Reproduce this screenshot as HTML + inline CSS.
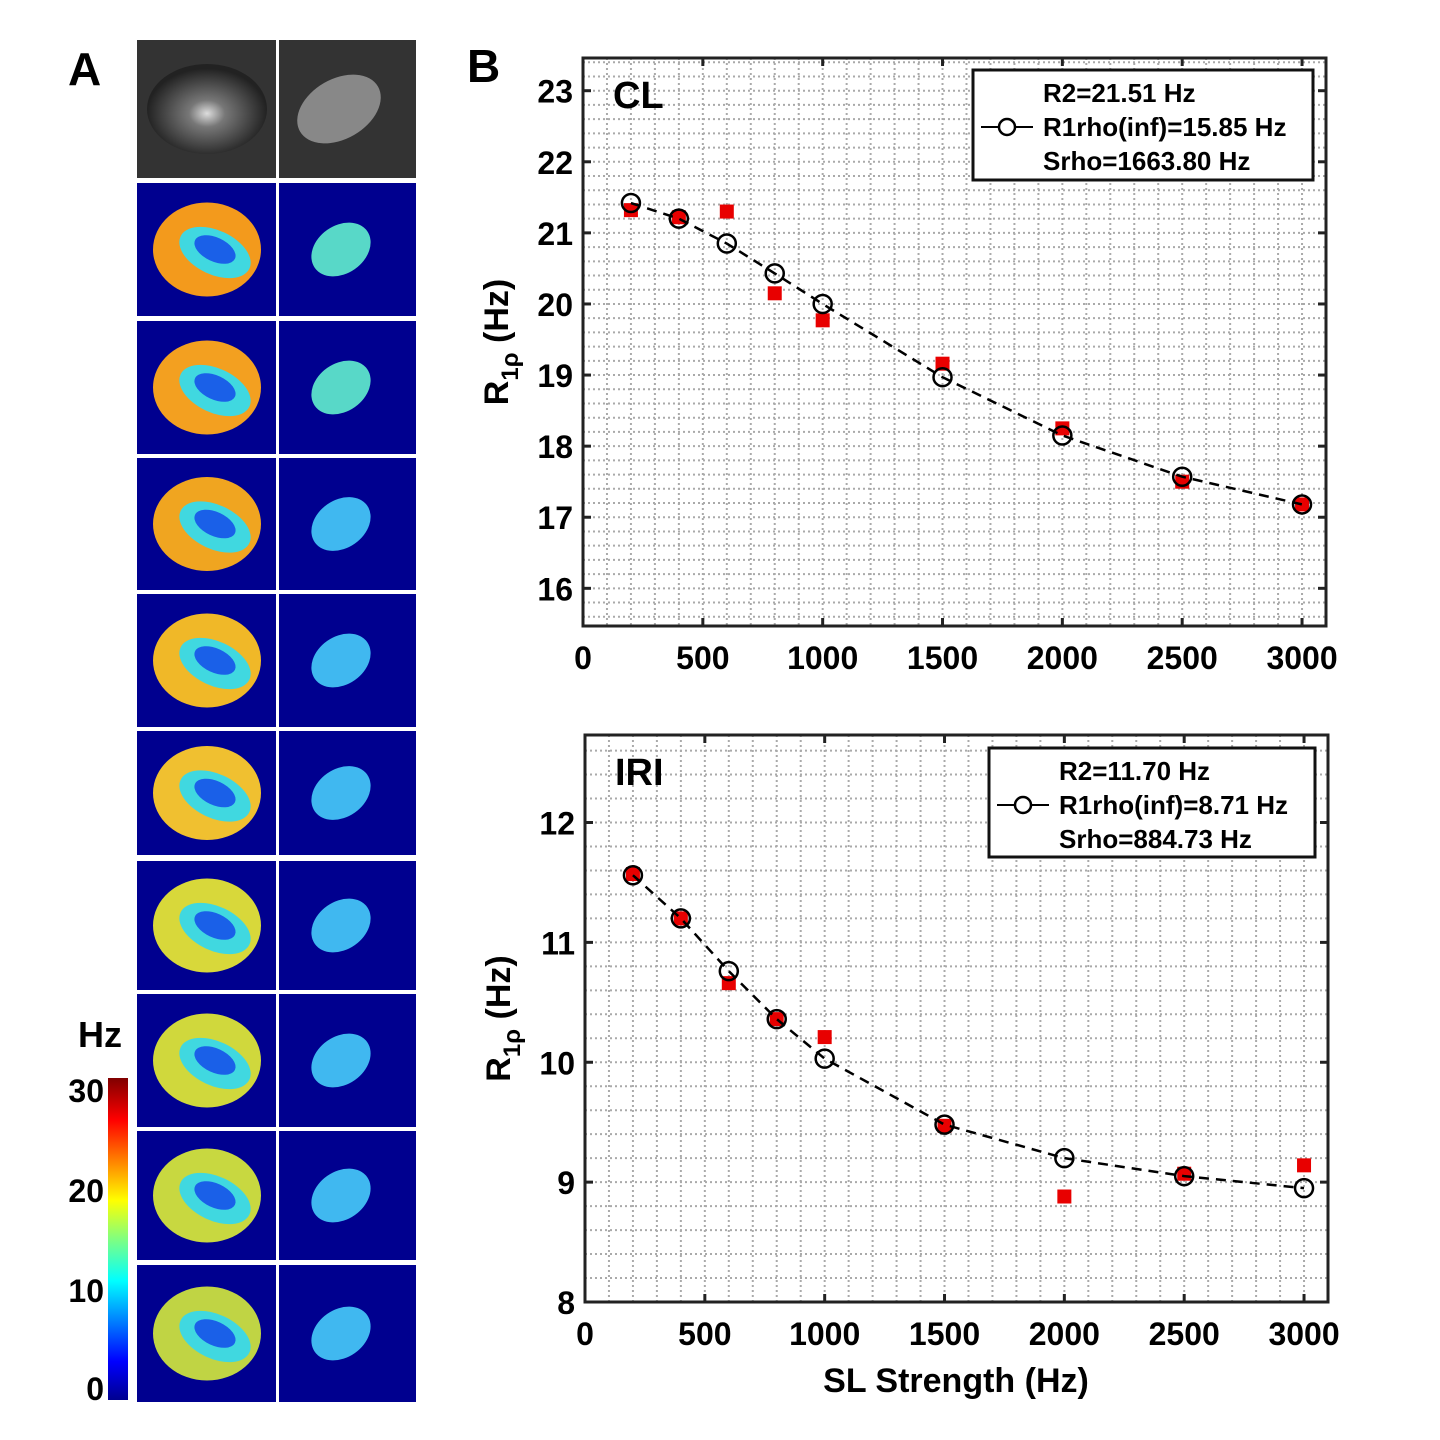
<!DOCTYPE html>
<html><head><meta charset="utf-8"><style>
body{margin:0;background:#fff;width:1440px;height:1440px;overflow:hidden;font-family:"Liberation Sans",Arial,sans-serif}
svg{position:absolute;left:0;top:0}
</style></head><body>
<svg id="fig" width="1440" height="1440" viewBox="0 0 1440 1440">
<defs>
<linearGradient id="jet" x1="0" y1="1" x2="0" y2="0">
<stop offset="0" stop-color="#00008f"/><stop offset="0.12" stop-color="#0000ff"/><stop offset="0.37" stop-color="#00ffff"/>
<stop offset="0.5" stop-color="#80ff80"/><stop offset="0.62" stop-color="#ffff00"/><stop offset="0.87" stop-color="#ff0000"/><stop offset="1" stop-color="#800000"/>
</linearGradient>
<radialGradient id="gray" cx="0.5" cy="0.55" r="0.5"><stop offset="0" stop-color="#ddd"/><stop offset="0.3" stop-color="#777"/><stop offset="1" stop-color="#222"/></radialGradient>
</defs>
<text x="68" y="85" font-size="46" font-weight="bold">A</text>
<text x="467" y="82" font-size="46" font-weight="bold">B</text>
<g id="maps"></g>
<rect x="108" y="1078" width="20" height="322" fill="url(#jet)"/>
<text x="78" y="1047" font-size="36" font-weight="bold">Hz</text>
<g font-size="32" font-weight="bold" text-anchor="end">
<text x="104" y="1102">30</text><text x="104" y="1202">20</text><text x="104" y="1302">10</text><text x="104" y="1400">0</text></g>
<g id="p1"></g>
<g id="p2"></g>
<text x="956" y="1392" font-size="34" font-weight="bold" text-anchor="middle">SL Strength (Hz)</text>
</svg>
<script>
const xVals=[200,400,600,800,1000,1500,2000,2500,3000];
const clFit=[21.42,21.2,20.85,20.43,20.0,18.97,18.15,17.57,17.18];
const clData=[21.32,21.22,21.3,20.15,19.77,19.16,18.25,17.5,17.18];
const iriFit=[11.56,11.2,10.76,10.36,10.03,9.48,9.2,9.05,8.95];
const iriData=[11.57,11.2,10.66,10.36,10.21,9.47,8.88,9.07,9.14];
const xTicks=[0,500,1000,1500,2000,2500,3000];
const clYTicks=[16,17,18,19,20,21,22,23];
const iriYTicks=[8,9,10,11,12];
const clLegend=["R2=21.51 Hz","R1rho(inf)=15.85 Hz","Srho=1663.80 Hz"];
const iriLegend=["R2=11.70 Hz","R1rho(inf)=8.71 Hz","Srho=884.73 Hz"];
const NS="http://www.w3.org/2000/svg";
function mk(p,t,a){const e=document.createElementNS(NS,t);for(const k in a)e.setAttribute(k,a[k]);p.appendChild(e);return e;}

function chart(g,o){
  const sx=v=>o.L+(v-0)/(o.xmax)*(o.R-o.L);
  const sy=v=>o.B-(v-o.ymin)/(o.ymax-o.ymin)*(o.B-o.T);
  for(let v=100;v<o.xmax;v+=100){const l=mk(g,'line',{x1:sx(v),x2:sx(v),y1:o.T,y2:o.B,stroke:'#aaa','stroke-width':2,'stroke-dasharray':'2 3'});}
  for(let v=Math.ceil(o.ymin*5)/5;v<o.ymax;v+=0.2){const l=mk(g,'line',{x1:o.L,x2:o.R,y1:sy(v),y2:sy(v),stroke:'#aaa','stroke-width':2,'stroke-dasharray':'2 3'});}
  const f=mk(g,'rect',{x:o.L,y:o.T,width:o.R-o.L,height:o.B-o.T,fill:'none',stroke:'#222','stroke-width':3});
  
  xTicks.forEach(v=>{mk(g,'line',{x1:sx(v),x2:sx(v),y1:o.B,y2:o.B-8,stroke:'#222','stroke-width':3});mk(g,'line',{x1:sx(v),x2:sx(v),y1:o.T,y2:o.T+8,stroke:'#222','stroke-width':3});
    const t=mk(g,'text',{x:sx(v),y:o.B+43,'font-size':32,'font-weight':'bold','text-anchor':'middle'});t.textContent=v;
    });
  o.yt.forEach(v=>{mk(g,'line',{x1:o.L,x2:o.L+8,y1:sy(v),y2:sy(v),stroke:'#222','stroke-width':3});mk(g,'line',{x1:o.R,x2:o.R-8,y1:sy(v),y2:sy(v),stroke:'#222','stroke-width':3});
    const t=mk(g,'text',{x:o.L-10,y:sy(v)+12,'font-size':32,'font-weight':'bold','text-anchor':'end'});t.textContent=v;
    });
  const yt=mk(g,'text',{transform:`translate(${o.L-75},${(o.T+o.B)/2}) rotate(-90)`,'font-size':34,'font-weight':'bold','text-anchor':'middle'});
  yt.innerHTML='R<tspan font-size="24" dy="10">1ρ</tspan><tspan dy="-10"> (Hz)</tspan>';
  
  const lab=mk(g,'text',{x:o.L+30,y:o.T+50,'font-size':38,'font-weight':'bold'});lab.textContent=o.label;
  
  o.data.forEach((v,i)=>{const r=mk(g,'rect',{x:sx(xVals[i])-7,y:sy(v)-7,width:14,height:14,fill:'#e80000'});
    });
  const pl=mk(g,'polyline',{points:o.fit.map((v,i)=>sx(xVals[i])+','+sy(v)).join(' '),fill:'none',stroke:'#000','stroke-width':2.5,'stroke-dasharray':'10 7'});
  
  o.fit.forEach((v,i)=>{const c=mk(g,'circle',{cx:sx(xVals[i]),cy:sy(v),r:9,fill:'none',stroke:'#000','stroke-width':2.5});
    });
  const lg=o.lg;const b=mk(g,'rect',{x:lg[0],y:lg[1],width:lg[2],height:lg[3],fill:'#fff',stroke:'#111','stroke-width':3});
  
  o.leg.forEach((s,i)=>{const t=mk(g,'text',{x:lg[0]+70,y:lg[1]+32+i*34,'font-size':26,'font-weight':'bold'});t.textContent=s;
    });
  const ly=lg[1]+57;mk(g,'line',{x1:lg[0]+8,x2:lg[0]+60,y1:ly,y2:ly,stroke:'#000','stroke-width':2});
  mk(g,'circle',{cx:lg[0]+34,cy:ly,r:8,fill:'#fff',stroke:'#000','stroke-width':2.5});
}
chart(document.getElementById('p1'),{L:583,R:1326,T:58,B:626,xmax:3100,ymin:15.47,ymax:23.46,yt:clYTicks,fit:clFit,data:clData,label:'CL',leg:clLegend,lg:[973,70,340,110]});
chart(document.getElementById('p2'),{L:585,R:1328,T:735,B:1302,xmax:3100,ymin:8,ymax:12.73,yt:iriYTicks,fit:iriFit,data:iriData,label:'IRI',leg:iriLegend,lg:[989,748,326,109]});

const mg=document.getElementById('maps');
const rows=[[40,178],[183,316],[321,454],[458,590],[594,727],[731,855],[861,990],[994,1127],[1131,1260],[1265,1402]];
const outer=['#f39a1c','#f3a020','#f0a520','#f0b828','#f0c030','#d8d83a','#d0d83c','#c8d840','#c0d444'];
rows.forEach((r,i)=>{
  const h=r[1]-r[0],cy=r[0]+h/2;
  [[137,276],[279,416]].forEach((c,j)=>{
    const w=c[1]-c[0];
    if(i===0){mk(mg,'rect',{x:c[0],y:r[0],width:w,height:h,fill:'#333'});
      if(j===0){mk(mg,'ellipse',{cx:c[0]+70,cy:cy,rx:60,ry:45,fill:'url(#gray)'});}
      else{mk(mg,'ellipse',{cx:c[0]+60,cy:cy,rx:45,ry:30,fill:'#888',transform:`rotate(-30 ${c[0]+60} ${cy})`});}
      return;}
    mk(mg,'rect',{x:c[0],y:r[0],width:w,height:h,fill:'#00008f'});
    if(j===0){mk(mg,'ellipse',{cx:c[0]+70,cy:cy,rx:54,ry:47,fill:outer[i-1]});
      mk(mg,'ellipse',{cx:c[0]+78,cy:cy+3,rx:38,ry:22,fill:'#40d8e0',transform:`rotate(25 ${c[0]+78} ${cy+3})`});
      mk(mg,'ellipse',{cx:c[0]+78,cy:cy,rx:22,ry:12,fill:'#1a60e8',transform:`rotate(25 ${c[0]+78} ${cy})`});}
    else{mk(mg,'ellipse',{cx:c[0]+62,cy:cy,rx:32,ry:24,fill:i<3?'#58d8c8':'#40b8f0',transform:`rotate(-35 ${c[0]+62} ${cy})`});}
  });
});
</script>
</body></html>
